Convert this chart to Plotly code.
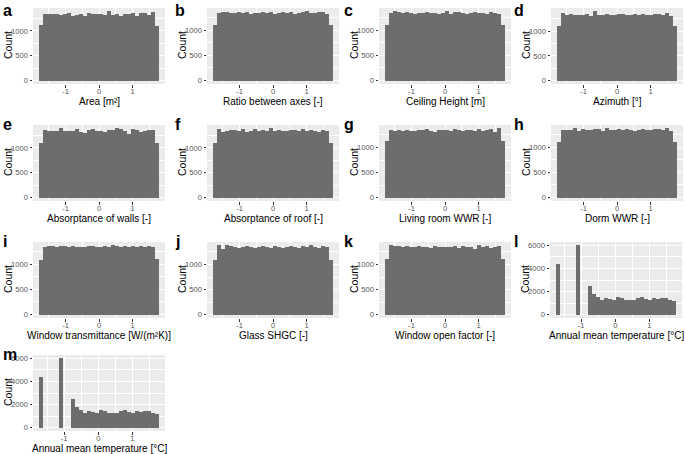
import numpy as np
import plotly.graph_objects as go

# ---------------- data ----------------
panel_letters = ["a", "b", "c", "d", "e", "f", "g", "h", "i", "j", "k", "l", "m"]
x_titles = ["Area [m²]", "Ratio between axes [-]", "Ceiling Height [m]", "Azimuth [°]",
            "Absorptance of walls [-]", "Absorptance of roof [-]", "Living room WWR [-]", "Dorm WWR [-]",
            "Window transmittance [W/(m²K)]", "Glass SHGC [-]", "Window open factor [-]",
            "Annual mean temperature [°C]", "Annual mean temperature [°C]"]

# bin span of the standardized (uniform) inputs, 30 bins
uni_lo, uni_hi, n_bins = -1.732, 1.732, 30
# bin span of the temperature variable
temp_lo, temp_hi = -1.68, 1.72

counts_a = [1120, 1330, 1340, 1330, 1345, 1320, 1330, 1350, 1300, 1310,
            1335, 1300, 1360, 1340, 1330, 1345, 1320, 1390, 1310, 1340,
            1300, 1340, 1330, 1350, 1290, 1360, 1350, 1320, 1370, 1100]
counts_b = [1110, 1340, 1350, 1350, 1340, 1330, 1360, 1330, 1350, 1320,
            1340, 1330, 1360, 1340, 1350, 1320, 1340, 1350, 1330, 1360,
            1320, 1340, 1350, 1370, 1340, 1330, 1350, 1360, 1320, 1100]
counts_c = [1110, 1330, 1370, 1350, 1340, 1350, 1330, 1320, 1340, 1330,
            1360, 1340, 1330, 1310, 1340, 1370, 1320, 1350, 1360, 1330,
            1320, 1340, 1350, 1330, 1340, 1320, 1360, 1340, 1320, 1110]
counts_d = [1100, 1360, 1330, 1340, 1330, 1320, 1330, 1340, 1300, 1400,
            1330, 1320, 1340, 1330, 1330, 1340, 1350, 1330, 1320, 1340,
            1330, 1340, 1320, 1330, 1340, 1350, 1320, 1370, 1300, 1100]
counts_e = [1100, 1360, 1340, 1340, 1330, 1390, 1330, 1340, 1340, 1380,
            1320, 1300, 1350, 1370, 1330, 1340, 1320, 1360, 1350, 1390,
            1370, 1330, 1270, 1380, 1360, 1310, 1330, 1360, 1350, 1100]
counts_f = [1090, 1370, 1320, 1340, 1360, 1350, 1340, 1380, 1320, 1340,
            1370, 1330, 1360, 1340, 1390, 1340, 1350, 1330, 1340, 1360,
            1350, 1330, 1370, 1330, 1350, 1340, 1320, 1360, 1330, 1100]
counts_g = [1120, 1350, 1330, 1340, 1330, 1350, 1330, 1320, 1340, 1350,
            1360, 1330, 1310, 1340, 1340, 1350, 1330, 1360, 1340, 1330,
            1350, 1340, 1320, 1360, 1330, 1340, 1360, 1310, 1380, 1120]
counts_h = [1100, 1340, 1330, 1340, 1370, 1320, 1360, 1340, 1330, 1360,
            1350, 1320, 1370, 1340, 1330, 1350, 1340, 1360, 1330, 1320,
            1340, 1350, 1340, 1330, 1360, 1350, 1340, 1370, 1310, 1100]
counts_i = [1090, 1340, 1350, 1360, 1340, 1360, 1350, 1330, 1360, 1340,
            1330, 1340, 1360, 1350, 1330, 1340, 1350, 1330, 1370, 1360,
            1340, 1350, 1330, 1350, 1340, 1360, 1330, 1360, 1330, 1100]
counts_j = [1090, 1380, 1300, 1380, 1370, 1340, 1320, 1350, 1360, 1340,
            1330, 1350, 1370, 1340, 1330, 1360, 1340, 1330, 1350, 1370,
            1340, 1330, 1360, 1350, 1380, 1340, 1330, 1360, 1340, 1090]
counts_k = [1110, 1380, 1360, 1360, 1350, 1360, 1340, 1350, 1360, 1340,
            1350, 1330, 1360, 1350, 1340, 1350, 1340, 1360, 1330, 1370,
            1340, 1350, 1300, 1380, 1340, 1370, 1330, 1350, 1370, 1110]
counts_temp = [4400, 0, 0, 0, 0, 6000, 0, 0,
               2450, 1800, 1500, 1300, 1400, 1350, 1300, 1550, 1450, 1300,
               1300, 1300, 1450, 1500, 1350, 1300, 1400, 1350, 1400, 1400,
               1300, 1150]

uniform_counts = [counts_a, counts_b, counts_c, counts_d, counts_e, counts_f,
                  counts_g, counts_h, counts_i, counts_j, counts_k]
all_counts = uniform_counts + [counts_temp, counts_temp]

x_tickvals = [-1, 0, 1]
x_ticktext = ["-1", "0", "1"]
y_ticks_uniform = [0, 500, 1000]
y_ticks_temp = [0, 2000, 4000, 6000]

# ---------------- layout geometry (pixels) ----------------
W, H = 685, 454
col_left = [33, 207, 379, 551]
plot_w = 132
row_top = [8, 125, 242, 355]
plot_h = 76

BG = "#EBEBEB"
BAR = "#6D6D6F"
FONT = "Liberation Sans, Arial, sans-serif"

fig = go.Figure()
annotations = []


def fx(px):
    return min(1.0, max(0.0, px / W))


def fy(py):
    return min(1.0, max(0.0, 1 - py / H))


for idx in range(13):
    r, c = divmod(idx, 4)
    left = col_left[c]
    if idx == 11:
        left = 550
    top = row_top[r]
    is_temp = idx >= 11
    counts = all_counts[idx]
    lo, hi = (temp_lo, temp_hi) if is_temp else (uni_lo, uni_hi)
    centers = np.linspace(lo, hi, n_bins)
    bw = (hi - lo) / (n_bins - 1)
    n = idx + 1
    xa = "x" if n == 1 else f"x{n}"
    ya = "y" if n == 1 else f"y{n}"
    fig.add_trace(go.Bar(x=centers, y=counts, width=bw, marker=dict(color=BAR, line=dict(width=0)),
                         xaxis=xa, yaxis=ya, showlegend=False, hoverinfo="x+y"))
    # ggplot style 5% expansion
    x0, x1 = lo - bw / 2, hi + bw / 2
    span = x1 - x0
    xr = [x0 - 0.05 * span, x1 + 0.05 * span]
    ymax = max(counts)
    yr = [-0.05 * ymax, 1.05 * ymax]
    yt = y_ticks_temp if is_temp else y_ticks_uniform
    ydt = yt[1] - yt[0]
    common = dict(showline=False, zeroline=False, ticks="outside", ticklen=2.5, tickcolor="#333333",
                  tickwidth=1, showgrid=True, gridcolor="white", gridwidth=1, automargin=False,
                  tickfont=dict(family=FONT, size=7.6, color="#555555"), fixedrange=True)
    xkey = "xaxis" if n == 1 else f"xaxis{n}"
    ykey = "yaxis" if n == 1 else f"yaxis{n}"
    right = min(left + plot_w, W - 2)
    fig.layout[xkey] = dict(common, domain=[fx(left), fx(right)], anchor=ya, range=xr,
                            tickmode="array", tickvals=x_tickvals, ticktext=x_ticktext,
                            ticklabelstandoff=-3,
                            minor=dict(tickmode="array", tickvals=[-1.5, -0.5, 0.5, 1.5], showgrid=True,
                                       gridcolor="white", gridwidth=0.5, ticks=""))
    fig.layout[ykey] = dict(common, domain=[fy(top + plot_h), fy(top)], anchor=xa, range=yr,
                            tickmode="array", tickvals=yt, ticktext=[str(v) for v in yt],
                            minor=dict(tickmode="array", tickvals=[v + ydt / 2 for v in yt], showgrid=True,
                                       gridcolor="white", gridwidth=0.5, ticks=""))
    # titles and letters
    annotations.append(dict(text=x_titles[idx], x=fx((left + right) / 2), y=fy(top + plot_h + 9.5),
                            xref="paper", yref="paper", xanchor="center", yanchor="top", showarrow=False,
                            font=dict(family=FONT, size=10, color="#000000")))
    annotations.append(dict(text="Count", x=fx(left - 25), y=fy(top + plot_h / 2 - 1),
                            xref="paper", yref="paper", xanchor="center", yanchor="middle", showarrow=False,
                            textangle=-90, font=dict(family=FONT, size=10.5, color="#000000")))
    letter_x = [1, 173, 342, 512][c]
    annotations.append(dict(text=f"<b>{panel_letters[idx]}</b>", x=fx(letter_x), y=fy(top - 11),
                            xref="paper", yref="paper", xanchor="left", yanchor="top", showarrow=False,
                            font=dict(family=FONT, size=16, color="#000000")))

fig.update_layout(template="none", width=W, height=H, margin=dict(l=0, r=0, t=0, b=0, pad=0),
                  paper_bgcolor="white", plot_bgcolor=BG, bargap=0,
                  annotations=annotations, showlegend=False)

fig.write_html("out.html", config={"displayModeBar": False},
               post_script="document.body.style.margin='0';document.body.style.overflow='hidden';")
